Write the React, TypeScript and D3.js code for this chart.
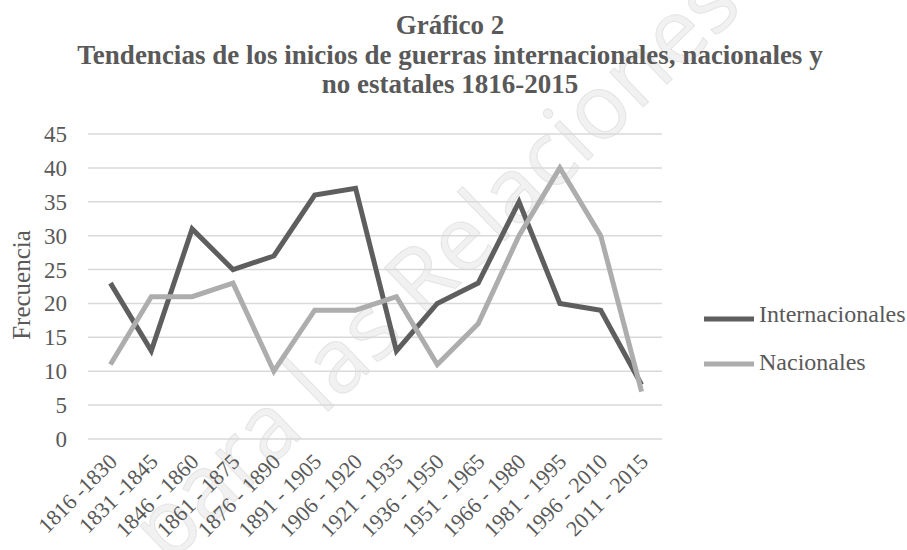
import { useRef, useEffect } from "react";
import * as d3 from "d3";

const categories = [
  "1816 -1830",
  "1831 -1845",
  "1846 - 1860",
  "1861 - 1875",
  "1876 - 1890",
  "1891 - 1905",
  "1906 - 1920",
  "1921 - 1935",
  "1936 - 1950",
  "1951 - 1965",
  "1966 - 1980",
  "1981 - 1995",
  "1996 - 2010",
  "2011 - 2015",
];

const internacionales = [23, 13, 31, 25, 27, 36, 37, 13, 20, 23, 35, 20, 19, 8];
const nacionales = [11, 21, 21, 23, 10, 19, 19, 21, 11, 17, 30, 40, 30, 7];

const yTicks = [0, 5, 10, 15, 20, 25, 30, 35, 40, 45];

const series = [
  { name: "Internacionales", values: internacionales, color: "#5e5e5e" },
  { name: "Nacionales", values: nacionales, color: "#adadad" },
];

const titleLines = [
  "Gráfico 2",
  "Tendencias de los inicios de guerras internacionales, nacionales y",
  "no estatales 1816-2015",
];

export default function App() {
  const svgRef = useRef<SVGSVGElement>(null);

  useEffect(() => {
    if (!svgRef.current) return;
    const svg = d3.select(svgRef.current);
    svg.selectAll("*").remove();

    const width = 907;
    const height = 550;
    const font = "'Liberation Serif', 'Times New Roman', serif";

    svg.attr("width", width).attr("height", height).attr("viewBox", `0 0 ${width} ${height}`);

    const x = d3.scalePoint<string>().domain(categories).range([90, 662]).padding(0.5);
    const y = d3.scaleLinear().domain([0, 45]).range([439, 134]);

    // Watermark
    svg
      .append("text")
      .attr("transform", "translate(168,566) rotate(-44)")
      .attr("font-family", "'Open Sans', 'DejaVu Sans', sans-serif")
      .attr("font-size", "90px")
      .attr("fill", "#f1f1f1")
      .attr("stroke", "#e4e4e4")
      .attr("stroke-width", 1)
      .text("para las Relaciones In");

    // Title
    svg
      .append("g")
      .selectAll("text")
      .data(titleLines)
      .enter()
      .append("text")
      .attr("x", 450)
      .attr("y", (_, i) => 34 + i * 29.5)
      .attr("text-anchor", "middle")
      .attr("font-family", font)
      .attr("font-weight", "bold")
      .attr("font-size", "27px")
      .attr("fill", "#595959")
      .text((d) => d);

    // Grid lines
    svg
      .append("g")
      .selectAll("line")
      .data(yTicks)
      .enter()
      .append("line")
      .attr("x1", 88)
      .attr("x2", 662)
      .attr("y1", (d) => y(d))
      .attr("y2", (d) => y(d))
      .attr("stroke", "#d9d9d9")
      .attr("stroke-width", 1.5);

    // Y axis labels
    svg
      .append("g")
      .selectAll("text")
      .data(yTicks)
      .enter()
      .append("text")
      .attr("x", 67)
      .attr("y", (d) => y(d) + 8)
      .attr("text-anchor", "end")
      .attr("font-family", font)
      .attr("font-size", "23px")
      .attr("fill", "#595959")
      .text((d) => d);

    svg
      .append("text")
      .attr("transform", "translate(30,285) rotate(-90)")
      .attr("text-anchor", "middle")
      .attr("font-family", font)
      .attr("font-size", "25px")
      .attr("fill", "#595959")
      .text("Frecuencia");

    // X axis labels
    svg
      .append("g")
      .selectAll("text")
      .data(categories)
      .enter()
      .append("text")
      .attr("transform", (d) => `translate(${(x(d) || 0) + 8},${463}) rotate(-45)`)
      .attr("text-anchor", "end")
      .attr("font-family", font)
      .attr("font-size", "22px")
      .attr("fill", "#595959")
      .text((d) => d);

    // Lines
    const line = d3
      .line<number>()
      .x((_, i) => x(categories[i]) || 0)
      .y((d) => y(d));

    svg
      .append("g")
      .selectAll("path")
      .data(series)
      .enter()
      .append("path")
      .attr("d", (d) => line(d.values))
      .attr("fill", "none")
      .attr("stroke", (d) => d.color)
      .attr("stroke-width", 5)
      .attr("stroke-linejoin", "miter");

    // Legend
    const legend = svg
      .append("g")
      .selectAll("g")
      .data(series)
      .enter()
      .append("g")
      .attr("transform", (_, i) => `translate(704,${319 + i * 45})`);

    legend
      .append("line")
      .attr("x1", 0)
      .attr("x2", 50)
      .attr("stroke", (d) => d.color)
      .attr("stroke-width", 5);

    legend
      .append("text")
      .attr("x", 55)
      .attr("y", (_, i) => (i === 0 ? 3 : 6))
      .attr("font-family", font)
      .attr("font-size", "24px")
      .attr("fill", "#595959")
      .text((d) => d.name);
  }, []);

  return (
    <svg
      ref={svgRef}
      style={{ position: "absolute", left: 0, top: 0, background: "#fff" }}
    />
  );
}
